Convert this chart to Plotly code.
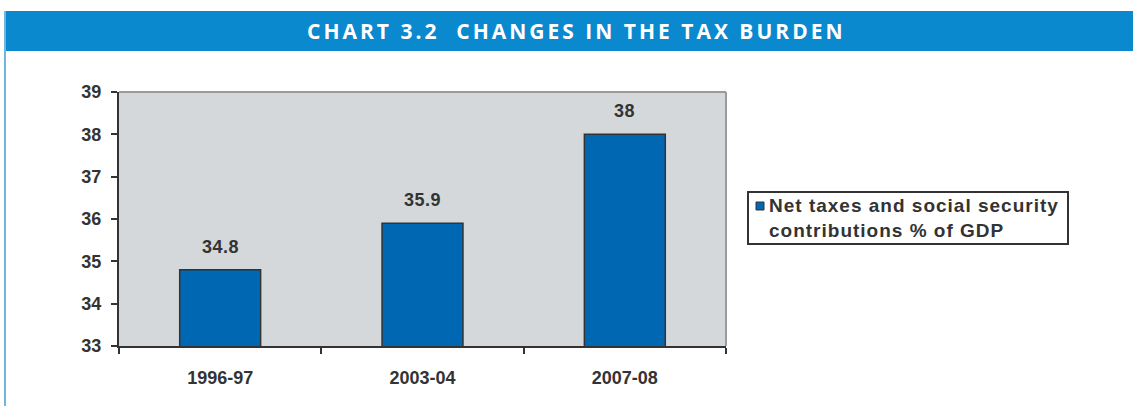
import plotly.graph_objects as go

categories = ["1996-97", "2003-04", "2007-08"]
values = [34.8, 35.9, 38.0]
value_labels = ["34.8", "35.9", "38"]
y_ticks = [33, 34, 35, 36, 37, 38, 39]
series_name = "Net taxes and social security<br>contributions % of GDP"
title_text = "CHART 3.2  CHANGES IN THE TAX BURDEN"

W, H = 1133, 406
L, R, T, B = 119, 726, 92, 346

BAR = "#0067B3"
DARK = "#333333"
FONT = "Liberation Sans, Arial"

fig = go.Figure()
fig.add_trace(go.Bar(
    x=categories, y=values, width=0.4,
    marker=dict(color=BAR, line=dict(color=DARK, width=1.5)),
    showlegend=False,
))

for c, v, lab in zip(categories, values, value_labels):
    fig.add_annotation(x=c, y=v, text=f"<span style='letter-spacing:0.5px'>{lab}</span>", showarrow=False,
                       yshift=23, font=dict(family=FONT, size=18, color=DARK, weight="bold"))

def px_x(px):
    return (px - L) / (R - L)

def px_y(py):
    return (B - py) / (B - T)

shapes = [
    # title band
    dict(type="rect", xref="paper", yref="paper", x0=px_x(4), x1=px_x(1140), y0=px_y(51), y1=px_y(11),
         fillcolor="#0A89CF", line=dict(width=0), layer="below"),
    # left border line
    dict(type="line", xref="paper", yref="paper", x0=px_x(5), x1=px_x(5), y0=px_y(410), y1=px_y(11),
         line=dict(color="#6FB6E2", width=2)),
    # top & right plot border
    dict(type="line", xref="paper", yref="paper", x0=0, x1=1, y0=1, y1=1, line=dict(color="#9A9A9A", width=2)),
    dict(type="line", xref="paper", yref="paper", x0=1, x1=1, y0=0, y1=1, line=dict(color="#9A9A9A", width=2)),
    # legend box
    dict(type="rect", xref="paper", yref="paper", x0=px_x(748), x1=px_x(1068), y0=px_y(244), y1=px_y(192),
         fillcolor="white", line=dict(color=DARK, width=2)),
    # legend key
    dict(type="rect", xref="paper", yref="paper", x0=px_x(756), x1=px_x(764), y0=px_y(210), y1=px_y(202),
         fillcolor=BAR, line=dict(color=DARK, width=1)),
]

fig.add_annotation(xref="paper", yref="paper", x=px_x(576), y=px_y(31),
                   text=f"<span style='letter-spacing:3px'>{title_text}</span>",
                   showarrow=False, xanchor="center", yanchor="middle",
                   font=dict(family="Open Sans", size=21, color="white", weight="bold"))

fig.add_annotation(xref="paper", yref="paper", x=px_x(767), y=px_y(218),
                   text="<br>".join(f"<span style='letter-spacing:1px'>{s}</span>" for s in series_name.split("<br>")),
                   showarrow=False, xanchor="left", yanchor="middle", align="left",
                   font=dict(family=FONT, size=19, color=DARK, weight="bold"))

tickfont = dict(size=18, family=FONT, color=DARK, weight="bold")
fig.update_layout(
    width=W, height=H,
    margin=dict(l=L, r=W - R, t=T, b=H - B, pad=0),
    paper_bgcolor="white", plot_bgcolor="#D4D8DA",
    shapes=shapes,
    font=dict(family=FONT, color=DARK),
    showlegend=False,
    xaxis=dict(type="category", showgrid=False, showline=True, linecolor=DARK, linewidth=2,
               ticks="outside", tickson="boundaries", ticklen=6, tickcolor=DARK, tickwidth=2,
               tickfont=tickfont, ticklabelstandoff=14, fixedrange=True),
    yaxis=dict(range=[33, 39], tickvals=y_ticks, showgrid=False, showline=True, linecolor=DARK, linewidth=2,
               ticks="outside", ticklen=6, tickcolor=DARK, tickwidth=2, zeroline=False,
               tickfont=tickfont, ticklabelstandoff=6, fixedrange=True),
)

fig.write_html("out.html")
